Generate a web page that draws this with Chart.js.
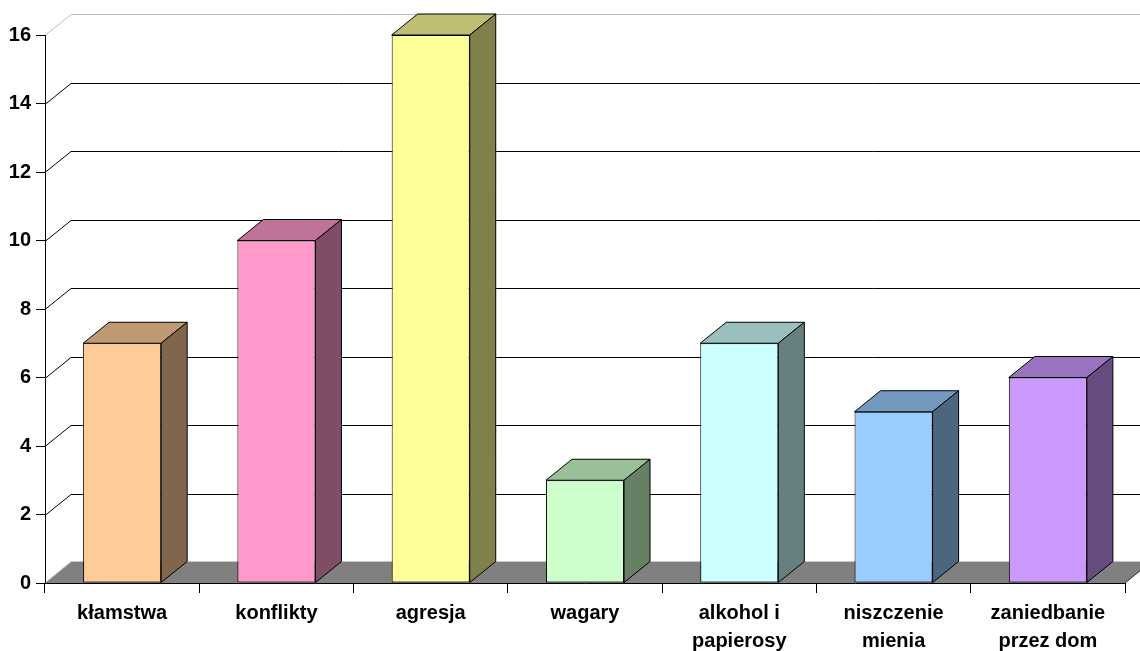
<!DOCTYPE html>
<html><head><meta charset="utf-8">
<script src="https://cdn.jsdelivr.net/npm/chart.js@4"></script>
<style>html,body{margin:0;padding:0;background:#fff;} #wrap{width:1140px;height:651px;}</style>
</head><body><div id="wrap"><canvas id="c" width="1140" height="651"></canvas></div>
<script>
const categories = ['kłamstwa', 'konflikty', 'agresja', 'wagary', ['alkohol i', 'papierosy'], ['niszczenie', 'mienia'], ['zaniedbanie', 'przez dom']];
const values = [7, 10, 16, 3, 7, 5, 6];
const yTicks = [0, 2, 4, 6, 8, 10, 12, 14, 16];

const frontColors = ['#FFCC99', '#FF99CC', '#FFFF99', '#CCFFCC', '#CCFFFF', '#99CCFF', '#CC99FF'];
const DX = 26, DY = 21;
const FONT = "'Liberation Sans', Arial, sans-serif";

function shade(hex, f) {
  const n = parseInt(hex.slice(1), 16);
  const r = Math.round(((n >> 16) & 255) * f), g = Math.round(((n >> 8) & 255) * f), b = Math.round((n & 255) * f);
  return 'rgb(' + r + ',' + g + ',' + b + ')';
}

const plugin3d = {
  id: 'bar3d',
  beforeDraw(chart) {
    const ctx = chart.ctx, a = chart.chartArea, y = chart.scales.y;
    ctx.save();
    const y0 = y.getPixelForValue(0);
    // floor
    ctx.fillStyle = '#808080';
    ctx.beginPath();
    ctx.moveTo(a.left, y0); ctx.lineTo(a.right, y0);
    ctx.lineTo(a.right + DX, y0 - DY); ctx.lineTo(a.left + DX, y0 - DY);
    ctx.closePath(); ctx.fill();
    ctx.strokeStyle = '#C8C8C8'; ctx.lineWidth = 1;
    ctx.beginPath();
    ctx.moveTo(a.left, y0); ctx.lineTo(a.left + DX, y0 - DY - 0.5); ctx.lineTo(chart.width + DX, y0 - DY - 0.5);
    ctx.stroke();
    ctx.strokeStyle = '#333'; ctx.beginPath();
    ctx.moveTo(a.right, y0); ctx.lineTo(a.right + DX, y0 - DY); ctx.stroke();
    // gridlines on walls
    const maxV = yTicks[yTicks.length - 1];
    yTicks.forEach(v => {
      if (v === 0) return;
      const py = Math.round(y.getPixelForValue(v)) + 0.5;
      ctx.strokeStyle = v === maxV ? '#BDBDBD' : '#000';
      ctx.beginPath();
      ctx.moveTo(a.left, py); ctx.lineTo(a.left + DX, py - DY); ctx.lineTo(chart.width + DX, py - DY);
      ctx.stroke();
    });
    ctx.restore();
  },
  afterDatasetsDraw(chart) {
    const ctx = chart.ctx;
    const meta = chart.getDatasetMeta(0);
    ctx.save();
    ctx.lineWidth = 1; ctx.strokeStyle = '#000'; ctx.lineJoin = 'round';
    meta.data.forEach((bar, i) => {
      const p = bar.getProps(['x', 'y', 'base', 'width'], true);
      const l = p.x - p.width / 2, r = p.x + p.width / 2, t = p.y, b = p.base;
      // top face
      ctx.fillStyle = shade(frontColors[i], 0.75);
      ctx.beginPath();
      ctx.moveTo(l, t); ctx.lineTo(r, t); ctx.lineTo(r + DX, t - DY); ctx.lineTo(l + DX, t - DY); ctx.closePath();
      ctx.fill(); ctx.stroke();
      // side face
      ctx.fillStyle = shade(frontColors[i], 0.5);
      ctx.beginPath();
      ctx.moveTo(r, t); ctx.lineTo(r + DX, t - DY); ctx.lineTo(r + DX, b - DY); ctx.lineTo(r, b); ctx.closePath();
      ctx.fill(); ctx.stroke();
    });
    ctx.restore();
  }
};

new Chart(document.getElementById('c'), {
  type: 'bar',
  data: {
    labels: categories,
    datasets: [{
      data: values,
      backgroundColor: frontColors,
      borderColor: '#000',
      borderWidth: 1,
      borderSkipped: false,
      barPercentage: 0.506,
      categoryPercentage: 1
    }]
  },
  options: {
    responsive: false,
    animation: false,
    events: [],
    layout: { padding: { top: 35, right: 15, left: 0, bottom: 0 } },
    plugins: { legend: { display: false }, tooltip: { enabled: false } },
    scales: {
      x: {
        grid: { display: true, drawOnChartArea: false, drawTicks: true, tickLength: 10, color: '#000', offset: true },
        border: { display: true, color: '#000' },
        ticks: { color: '#000', font: { family: FONT, size: 20, weight: 'bold', lineHeight: 1.4 }, maxRotation: 0, autoSkip: false, padding: 6 },
        afterFit(s) { s.height = 68; }
      },
      y: {
        min: 0, max: 16,
        afterBuildTicks(s) { s.ticks = yTicks.map(v => ({ value: v })); },
        grid: { display: true, drawOnChartArea: false, drawTicks: true, tickLength: 9, color: '#000' },
        border: { display: true, color: '#000' },
        ticks: { color: '#000', font: { family: FONT, size: 20, weight: 'bold' }, padding: 5 },
        afterFit(s) { s.width = 45; }
      }
    }
  },
  plugins: [plugin3d]
});
</script>
</body></html>
